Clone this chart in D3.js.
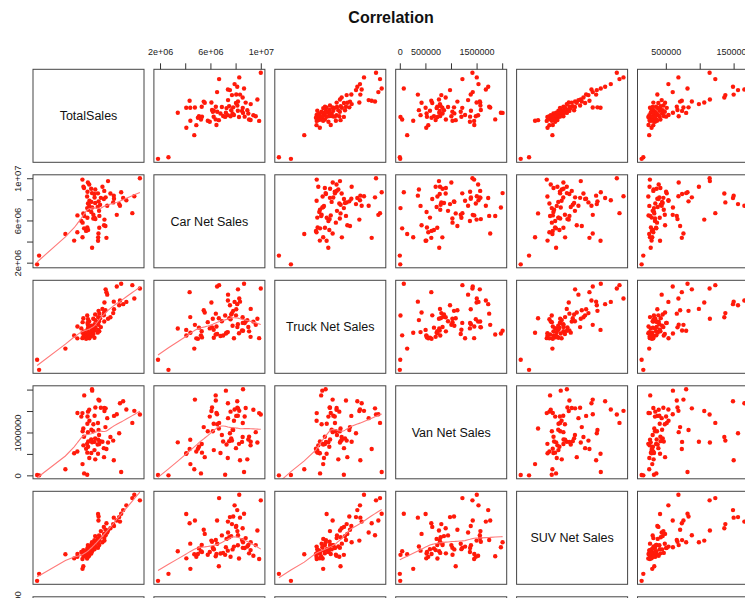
<!DOCTYPE html>
<html>
<head>
<meta charset="utf-8">
<script src="https://cdn.jsdelivr.net/npm/d3@7"></script>
<style>
  body { margin: 0; background: #fff; }
  svg { display: block; font-family: "Liberation Sans", Arial, Helvetica, sans-serif; }
</style>
</head>
<body>
<svg id="chart" width="745" height="598"></svg>
<script>
// Monthly dealer sales, values in thousands of units of currency
const variables = ["TotalSales", "Car Net Sales", "Truck Net Sales", "Van Net Sales", "SUV Net Sales", "Crossover Net Sales"];

const totalSalesK = [23840,22720,22320,21120,20480,20080,19840,19680,19200,18640,
  18600,18480,17920,17440,17280,17120,16960,16920,16720,16640,
  16600,16680,16320,16000,15840,15680,15700,15640,15520,15540,
  15440,15460,15420,15360,14880,14900,14860,14720,14740,14700,
  14480,14500,14240,14260,14220,14080,14100,14060,13680,13700,
  13660,13440,13460,13420,13400,13280,13300,13260,13240,13320,
  13040,12640,12660,12620,12480,12500,12320,12340,12300,12080,
  11280,11300,10640,8880,3600,3200];

const carSalesK = [10000,8290,6690,7920,8130,8670,7390,7550,6530,8050,
  8350,7710,8560,9730,7400,4350,8190,5470,6080,5550,
  8030,8800,9200,8140,7490,5310,6430,6910,4770,7810,
  4080,4400,8570,7280,8930,6130,7650,6270,8180,8510,
  6190,6540,3410,7230,8590,6800,7760,9010,7380,7870,
  9410,5090,7010,7600,9600,5330,6260,7170,8270,8720,
  5010,5250,6420,9070,6670,9190,4410,5790,9870,5950,
  4880,6480,4090,4720,2670,1840];

const truckSalesK = [5365,4825,5545,4645,4525,5620,4720,4465,5470,4255,
  4660,4045,3820,3745,5035,5170,5320,4195,4615,4075,
  3925,3595,4270,3295,3775,3070,4015,3610,3415,4165,
  3145,3830,3520,2995,3670,3280,3970,2725,3445,3115,
  3740,2920,3220,2950,3100,2815,3370,3300,3025,2695,
  3590,3265,2845,3715,3420,2740,3150,3920,2965,3510,
  2665,2850,2900,3065,3770,2770,2990,3560,2700,3225,
  2690,3330,2840,2140,1000,1540];

const vanSalesK = [1419,1504,1223,1537,1727,78,1681,981,1425,1386,
  353,811,896,765,1334,615,1563,1125,1500,425,
  634,1570,785,1575,798,732,1746,942,1766,1059,
  504,831,1220,719,373,1583,863,589,1390,780,
  1027,1190,770,1975,2008,523,1065,835,405,1275,
  1530,667,790,1485,1007,530,1203,13,735,1373,
  620,46,1864,900,1092,700,262,1030,1452,1370,
  556,1455,517,144,0,8];

const suvSalesK = [3956,4196,4052,3740,3536,3380,3044,3236,3092,2852,
  3212,2936,2756,2660,2576,2972,2456,2696,2228,2516,
  2816,2336,2156,2636,2372,2036,2252,2450,3090,3260,
  3370,2096,1916,2300,1976,2180,2420,1856,2030,2250,
  1920,2090,1772,1940,2160,1676,1850,2040,1796,1970,
  1580,1892,1700,1532,2035,1736,1860,1616,1460,1910,
  1652,1770,1556,1680,1124,1820,1016,1620,1436,1740,
  1530,1655,1465,1640,800,500];

const crossoverSalesK = [1146,686,1230,538,1491,820,1659,1565,602,375,
  1501,1378,1363,1150,439,736,884,711,1067,489,
  390,316,988,464,425,356,662,306,760,835,
  415,267,514,380,320,672,454,291,405,740,
  341,485,277,605,800,326,445,365,257,540,
  395,310,470,345,690,280,410,325,242,504,
  295,360,270,420,330,260,300,370,265,340,
  315,245,290,255,168,143];

// Axis ticks and the labels that are printed (blank = tick only)
const carTicks = [2e6, 4e6, 6e6, 8e6, 1e7];
const carTickLabels = ["2e+06", "", "6e+06", "", "1e+07"];
const vanTicks = [0, 5e5, 1e6, 1.5e6, 2e6];
const vanTopLabels = ["0", "500000", "", "1500000", ""];
const vanLeftLabels = ["0", "", "1000000", "", ""];
const crossoverTicks = [5e5, 1e6, 1.5e6];
const crossoverTickLabels = ["500000", "", "1500000"];

const UNIT = 1000;
const series = [totalSalesK, carSalesK, truckSalesK, vanSalesK, suvSalesK, crossoverSalesK]
  .map(arr => arr.map(v => v * UNIT));

const axisSpec = {
  1: { ticks: carTicks, top: carTickLabels, left: carTickLabels },
  3: { ticks: vanTicks, top: vanTopLabels, left: vanLeftLabels },
  5: { ticks: crossoverTicks, top: crossoverTickLabels, left: crossoverTickLabels }
};

// Panel grid geometry
const COL0 = 33, COL_STEP = 120.9, PW = 111;
const ROW0 = 69.3, ROW_STEP = 105.5, PH = 93;
const nVar = variables.length;

const pointColor = "#ff1a0a";
const smoothColor = "#ff7a7a";

const svg = d3.select("#chart");

svg.append("text")
  .attr("x", 391).attr("y", 23)
  .attr("text-anchor", "middle")
  .attr("font-size", 16).attr("font-weight", "bold")
  .attr("fill", "#111")
  .text("Correlation");

// Padded extents (4% each side)
const domains = series.map(s => {
  const [lo, hi] = d3.extent(s);
  const pad = (hi - lo) * 0.04;
  return [lo - pad, hi + pad];
});

// R-style lowess smoother (f = 2/3, 3 robustness iterations)
function lowess(xIn, yIn, f = 2 / 3, nsteps = 3) {
  const order = d3.range(xIn.length).sort((a, b) => xIn[a] - xIn[b]);
  const x = order.map(i => xIn[i]), y = order.map(i => yIn[i]);
  const n = x.length;
  const range = x[n - 1] - x[0];
  const delta = 0.01 * range;
  const ns = Math.max(2, Math.min(n, Math.floor(f * n + 1e-7)));
  const ys = new Array(n).fill(0), rw = new Array(n).fill(1), res = new Array(n).fill(0);
  const w = new Array(n).fill(0);

  function lowest(xs, nleft, nright, userw) {
    const h = Math.max(xs - x[nleft], x[nright] - xs);
    const h9 = 0.999 * h, h1 = 0.001 * h;
    let a = 0, j = nleft;
    while (j < n) {
      w[j] = 0;
      const r = Math.abs(x[j] - xs);
      if (r <= h9) {
        w[j] = r <= h1 ? 1 : Math.pow(1 - Math.pow(r / h, 3), 3);
        if (userw) w[j] *= rw[j];
        a += w[j];
      } else if (x[j] > xs) break;
      j++;
    }
    const nrt = j - 1;
    if (a <= 0) return null;
    for (j = nleft; j <= nrt; j++) w[j] /= a;
    if (h > 0) {
      a = 0;
      for (j = nleft; j <= nrt; j++) a += w[j] * x[j];
      let b = xs - a, c = 0;
      for (j = nleft; j <= nrt; j++) c += w[j] * (x[j] - a) * (x[j] - a);
      if (Math.sqrt(c) > 0.001 * range) {
        b /= c;
        for (j = nleft; j <= nrt; j++) w[j] *= (b * (x[j] - a) + 1);
      }
    }
    let out = 0;
    for (j = nleft; j <= nrt; j++) out += w[j] * y[j];
    return out;
  }

  for (let iter = 1; iter <= nsteps + 1; iter++) {
    let nleft = 0, nright = ns - 1, last = -1, i = 0;
    for (;;) {
      if (nright < n - 1) {
        const d1 = x[i] - x[nleft], d2 = x[nright + 1] - x[i];
        if (d1 > d2) { nleft++; nright++; continue; }
      }
      const fit = lowest(x[i], nleft, nright, iter > 1);
      ys[i] = fit === null ? y[i] : fit;
      if (last < i - 1) {
        const denom = x[i] - x[last];
        for (let j = last + 1; j < i; j++) {
          const alpha = (x[j] - x[last]) / denom;
          ys[j] = alpha * ys[i] + (1 - alpha) * ys[last];
        }
      }
      last = i;
      const cut = x[last] + delta;
      for (i = last + 1; i < n; i++) {
        if (x[i] > cut) break;
        if (x[i] === x[last]) { ys[i] = ys[last]; last = i; }
      }
      i = Math.max(last + 1, i - 1);
      if (last >= n - 1) break;
    }
    for (let k = 0; k < n; k++) res[k] = y[k] - ys[k];
    const sc = d3.sum(res, r => Math.abs(r)) / n;
    if (iter > nsteps) break;
    const absr = res.map(Math.abs).sort((a, b) => a - b);
    const m1 = Math.floor(n / 2);
    const cmad = n % 2 === 0 ? 3 * (absr[m1] + absr[n - m1 - 1]) : 6 * absr[m1];
    if (cmad < 1e-7 * sc) break;
    const c9 = 0.999 * cmad, c1 = 0.001 * cmad;
    for (let k = 0; k < n; k++) {
      const r = Math.abs(res[k]);
      rw[k] = r <= c1 ? 1 : r <= c9 ? Math.pow(1 - Math.pow(r / cmad, 2), 2) : 0;
    }
  }
  return x.map((xv, k) => [xv, ys[k]]);
}

const defs = svg.append("defs");

for (let i = 0; i < nVar; i++) {
  for (let j = 0; j < nVar; j++) {
    const left = COL0 + j * COL_STEP;
    const top = ROW0 + i * ROW_STEP;
    const xs = d3.scaleLinear().domain(domains[j]).range([left, left + PW]);
    const ys = d3.scaleLinear().domain(domains[i]).range([top + PH, top]);
    const g = svg.append("g");

    if (i === j) {
      g.append("text")
        .attr("x", left + PW / 2).attr("y", top + PH / 2)
        .attr("dy", "0.35em")
        .attr("text-anchor", "middle")
        .attr("font-size", 12.5).attr("fill", "#111")
        .text(variables[i]);
    } else {
      const pts = d3.range(series[0].length).map(k => [series[j][k], series[i][k]]);
      g.selectAll("circle").data(pts).join("circle")
        .attr("cx", d => xs(d[0]))
        .attr("cy", d => ys(d[1]))
        .attr("r", 2.2)
        .attr("fill", pointColor);

      if (i > j) {
        const clipId = `clip-${i}-${j}`;
        defs.append("clipPath").attr("id", clipId)
          .append("rect").attr("x", left).attr("y", top).attr("width", PW).attr("height", PH);
        const fit = lowess(series[j], series[i]);
        g.append("path")
          .attr("clip-path", `url(#${clipId})`)
          .attr("d", d3.line().x(d => xs(d[0])).y(d => ys(d[1]))(fit))
          .attr("fill", "none")
          .attr("stroke", smoothColor)
          .attr("stroke-width", 1.1);
      }
    }

    g.append("rect")
      .attr("x", left).attr("y", top).attr("width", PW).attr("height", PH)
      .attr("fill", "none").attr("stroke", "#444").attr("stroke-width", 1);

    // Top axis on alternate columns of the first row
    if (i === 0 && axisSpec[j]) {
      const spec = axisSpec[j];
      svg.append("g")
        .attr("transform", `translate(0,${top})`)
        .call(d3.axisTop(xs).tickValues(spec.ticks)
          .tickFormat((d, k) => spec.top[k]).tickSize(6).tickPadding(8.5))
        .call(a => a.select(".domain").remove())
        .call(a => a.selectAll("line").attr("stroke", "#333"))
        .call(a => a.selectAll("text").attr("font-size", 9).attr("fill", "#222")
          .attr("font-family", "'Liberation Sans', Arial, sans-serif"));
    }
    // Left axis on alternate rows of the first column
    if (j === 0 && axisSpec[i]) {
      const spec = axisSpec[i];
      svg.append("g")
        .attr("transform", `translate(${left},0)`)
        .call(d3.axisLeft(ys).tickValues(spec.ticks)
          .tickFormat((d, k) => spec.left[k]).tickSize(6))
        .call(a => a.select(".domain").remove())
        .call(a => a.selectAll("line").attr("stroke", "#333"))
        .call(a => a.selectAll("text")
          .attr("x", null).attr("dy", null)
          .attr("text-anchor", "middle")
          .attr("transform", "translate(-12,0) rotate(-90)")
          .attr("font-size", 9.5).attr("fill", "#222")
          .attr("font-family", "'Liberation Sans', Arial, sans-serif"));
    }
  }
}
</script>
</body>
</html>
